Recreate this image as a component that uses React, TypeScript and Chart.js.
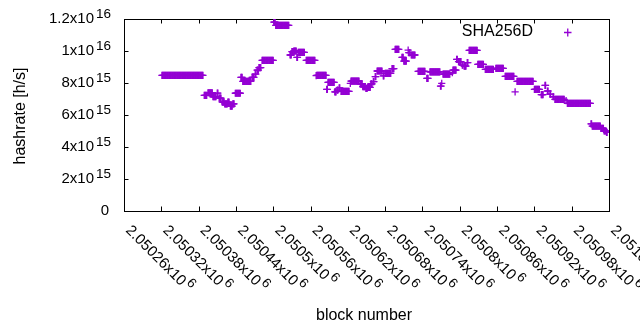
import React, { useEffect, useRef } from 'react';
import { Chart, registerables } from 'chart.js';

Chart.register(...registerables);

// Runs of consecutive blocks sharing one hashrate estimate (value in 1e15 h/s)
const runStart = [2050321, 2050389, 2050395, 2050403, 2050410, 2050413, 2050418, 2050422, 2050427, 2050431, 2050435, 2050439, 2050448, 2050451, 2050466, 2050471, 2050474, 2050477, 2050482, 2050501, 2050504, 2050527, 2050530, 2050533, 2050538, 2050540, 2050553, 2050569, 2050570, 2050586, 2050588, 2050599, 2050603, 2050606, 2050609, 2050624, 2050625, 2050640, 2050644, 2050649, 2050652, 2050657, 2050661, 2050664, 2050667, 2050677, 2050680, 2050691, 2050696, 2050707, 2050710, 2050717, 2050718, 2050722, 2050733, 2050747, 2050752, 2050769, 2050771, 2050773, 2050788, 2050789, 2050795, 2050798, 2050804, 2050807, 2050812, 2050815, 2050829, 2050841, 2050858, 2050873, 2050889, 2050892, 2050920, 2050931, 2050937, 2050941, 2050945, 2050950, 2050953, 2050971, 2050973, 2051011, 2051013, 2051027, 2051032, 2051036];
const runEnd = [2050387, 2050393, 2050402, 2050408, 2050411, 2050416, 2050421, 2050426, 2050429, 2050434, 2050437, 2050447, 2050450, 2050464, 2050469, 2050472, 2050476, 2050480, 2050500, 2050503, 2050525, 2050529, 2050532, 2050537, 2050539, 2050550, 2050567, 2050569, 2050585, 2050587, 2050598, 2050601, 2050604, 2050607, 2050622, 2050624, 2050638, 2050643, 2050648, 2050651, 2050656, 2050659, 2050662, 2050665, 2050675, 2050678, 2050689, 2050694, 2050702, 2050709, 2050714, 2050717, 2050720, 2050728, 2050744, 2050749, 2050768, 2050770, 2050771, 2050784, 2050788, 2050794, 2050796, 2050802, 2050805, 2050810, 2050813, 2050828, 2050838, 2050854, 2050870, 2050887, 2050889, 2050918, 2050928, 2050934, 2050938, 2050942, 2050946, 2050951, 2050968, 2050971, 2051010, 2051012, 2051026, 2051031, 2051035, 2051037];
const runValue = [8.48, 7.23, 7.39, 7.14, 7.37, 7.06, 6.81, 6.69, 6.81, 6.56, 6.69, 7.36, 8.35, 8.1, 8.35, 8.56, 8.8, 8.96, 9.42, 11.8, 11.6, 9.75, 9.96, 10.0, 9.6, 9.92, 9.42, 8.46, 8.48, 7.6, 8.04, 7.44, 7.56, 7.7, 7.48, 7.98, 8.12, 7.94, 7.77, 7.67, 7.73, 7.94, 8.08, 8.4, 8.75, 8.44, 8.6, 8.9, 10.1, 9.6, 9.37, 10.06, 9.9, 9.75, 8.73, 8.29, 8.69, 7.81, 7.98, 8.56, 8.65, 8.81, 9.48, 9.33, 9.12, 9.06, 9.27, 10.04, 9.17, 8.85, 8.92, 8.42, 7.44, 8.1, 7.6, 7.27, 7.85, 7.5, 7.31, 7.14, 6.98, 6.9, 6.73, 5.44, 5.31, 5.17, 5.0, 4.92];

const xTickValues = [2050260, 2050320, 2050380, 2050440, 2050500, 2050560, 2050620, 2050680, 2050740, 2050800, 2050860, 2050920, 2050980, 2051040];
const xTickLabels = ['2.05026', '2.05032', '2.05038', '2.05044', '2.0505', '2.05056', '2.05062', '2.05068', '2.05074', '2.0508', '2.05086', '2.05092', '2.05098', '2.05104'];
const xTickExponent = '6';
const yTickValues = [0, 2e15, 4e15, 6e15, 8e15, 1e16, 1.2e16];
const yTickMantissa = ['0', '2x10', '4x10', '6x10', '8x10', '1x10', '1.2x10'];
const yTickExponent = ['', '15', '15', '15', '15', '16', '16'];

const seriesName = 'SHA256D';
const xTitle = 'block number';
const yTitle = 'hashrate [h/s]';

const COLOR = '#9400d3';
const FONT = '"Liberation Sans", Arial, sans-serif';

function buildPoints() {
  const pts: { x: number; y: number }[] = [];
  for (let i = 0; i < runStart.length; i++) {
    for (let b = runStart[i]; b <= runEnd[i]; b++) {
      pts.push({ x: b, y: runValue[i] * 1e15 });
    }
  }
  return pts;
}

const frame = {
  id: 'gnuplotFrame',
  beforeDatasetsDraw(chart: any) {
    const { ctx, chartArea: a, scales } = chart;
    ctx.save();
    ctx.strokeStyle = '#000';
    ctx.lineWidth = 1;
    ctx.beginPath();
    const T = 4.5;
    for (const v of yTickValues) {
      const y = Math.round(scales.y.getPixelForValue(v)) + 0.5;
      ctx.moveTo(a.left, y); ctx.lineTo(a.left + T, y);
      ctx.moveTo(a.right, y); ctx.lineTo(a.right - T, y);
    }
    for (const v of xTickValues) {
      const x = Math.round(scales.x.getPixelForValue(v)) + 0.5;
      ctx.moveTo(x, a.bottom); ctx.lineTo(x, a.bottom - T);
      ctx.moveTo(x, a.top); ctx.lineTo(x, a.top + T);
    }
    ctx.stroke();
    ctx.strokeRect(a.left + 0.5, a.top + 0.5, a.right - a.left, a.bottom - a.top);
    ctx.restore();
  },
  afterDraw(chart: any) {
    const { ctx, chartArea: a, scales } = chart;
    ctx.save();
    ctx.fillStyle = '#000';
    const baseFont = `15px ${FONT}`;
    const supFont = `13.5px ${FONT}`;
    const yRight = a.left - 13;
    yTickValues.forEach((v, i) => {
      const y = scales.y.getPixelForValue(v);
      ctx.textBaseline = 'middle';
      if (!yTickExponent[i]) {
        ctx.font = baseFont;
        ctx.textAlign = 'right';
        ctx.fillText(yTickMantissa[i], yRight - 2, y);
        return;
      }
      ctx.font = supFont;
      const ws = ctx.measureText(yTickExponent[i]).width;
      ctx.textAlign = 'left';
      ctx.textBaseline = 'alphabetic';
      ctx.fillText(yTickExponent[i], yRight - ws, y - 1.5);
      ctx.font = baseFont;
      ctx.textAlign = 'right';
      ctx.textBaseline = 'middle';
      ctx.fillText(yTickMantissa[i], yRight - ws - 2, y);
    });
    xTickValues.forEach((v, i) => {
      const x = scales.x.getPixelForValue(v);
      ctx.save();
      ctx.translate(x + 1, a.bottom + 20);
      ctx.rotate(Math.PI / 4);
      ctx.textAlign = 'left';
      ctx.textBaseline = 'alphabetic';
      ctx.font = baseFont;
      const txt = xTickLabels[i] + 'x10';
      ctx.fillText(txt, 0, 0);
      const w = ctx.measureText(txt).width;
      ctx.font = supFont;
      ctx.fillText(xTickExponent, w + 2, -6);
      ctx.restore();
    });
    ctx.font = `16px ${FONT}`;
    ctx.textAlign = 'center';
    ctx.textBaseline = 'middle';
    ctx.fillText(xTitle, 364, 316);
    ctx.save();
    ctx.translate(21, (a.top + a.bottom) / 2 + 1);
    ctx.rotate(-Math.PI / 2);
    ctx.fillText(yTitle, 0, 0);
    ctx.restore();
    ctx.textAlign = 'right';
    ctx.fillText(seriesName, 533, 32);
    ctx.strokeStyle = COLOR;
    ctx.lineWidth = 1.3;
    ctx.beginPath();
    ctx.moveTo(564, 32.5); ctx.lineTo(571.5, 32.5);
    ctx.moveTo(567.75, 28.5); ctx.lineTo(567.75, 36.5);
    ctx.stroke();
    ctx.restore();
  },
};

export default function App() {
  const ref = useRef<HTMLCanvasElement>(null);
  useEffect(() => {
    if (!ref.current) return;
    const chart = new Chart(ref.current, {
      type: 'scatter',
      data: {
        datasets: [
          {
            label: seriesName,
            data: buildPoints(),
            pointStyle: 'cross',
            pointRadius: 3.6,
            pointHoverRadius: 3.6,
            borderColor: COLOR,
            backgroundColor: COLOR,
            borderWidth: 1.3,
          },
        ],
      },
      options: {
        responsive: false,
        animation: false,
        events: [],
        layout: { padding: { left: 124, right: 31, top: 19, bottom: 119 }, autoPadding: false },
        scales: {
          x: { type: 'linear', min: 2050260, max: 2051040, display: false },
          y: { type: 'linear', min: 0, max: 1.2e16, display: false },
        },
        plugins: { legend: { display: false }, tooltip: { enabled: false } },
      },
      plugins: [frame],
    });
    return () => chart.destroy();
  }, []);
  return (
    <div style={{ position: 'absolute', left: 0, top: 0, width: 640, height: 330, background: '#fff' }}>
      <canvas ref={ref} width={640} height={330} style={{ display: 'block' }} />
    </div>
  );
}
